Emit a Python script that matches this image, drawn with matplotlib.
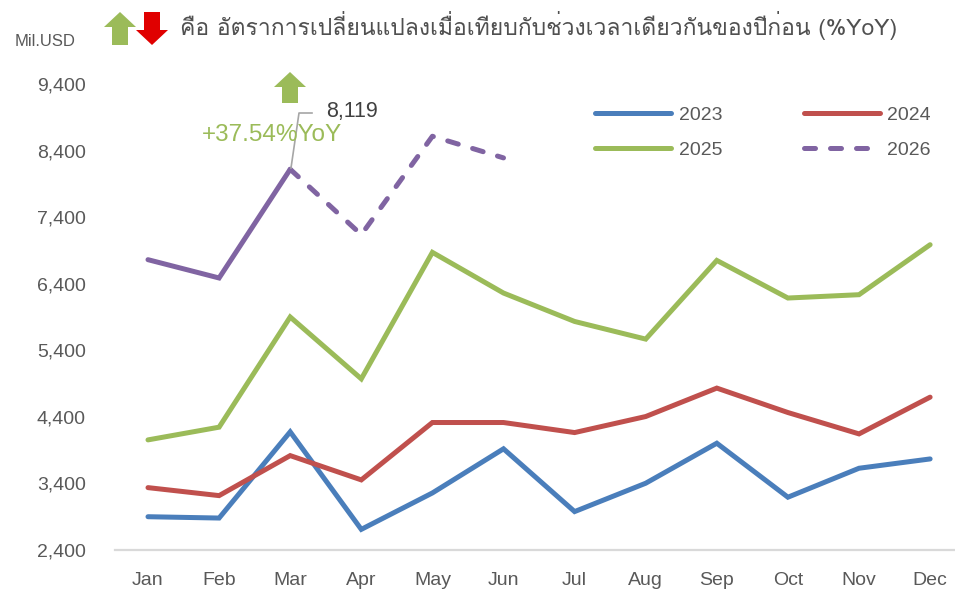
import matplotlib
matplotlib.use("Agg")
import matplotlib.pyplot as plt
from matplotlib import font_manager
from matplotlib.patches import FancyArrow
from matplotlib.lines import Line2D
from matplotlib.transforms import IdentityTransform

months = ["Jan", "Feb", "Mar", "Apr", "May", "Jun",
          "Jul", "Aug", "Sep", "Oct", "Nov", "Dec"]
y2023 = [2900, 2880, 4175, 2710, 3257, 3920, 2977, 3403, 4004, 3193, 3628, 3768]
y2024 = [3337, 3217, 3818, 3453, 4315, 4315, 4164, 4405, 4832, 4465, 4144, 4696]
y2025 = [4054, 4245, 5900, 4971, 6871, 6260, 5833, 5568, 6750, 6185, 6235, 6986]
y2026 = [6761, 6486, 8119, 7137, 8615, 8290]
yticks = [2400, 3400, 4400, 5400, 6400, 7400, 8400, 9400]

header_text = "คือ อัตราการเปลี่ยนแปลงเมื่อเทียบกับช่วงเวลาเดียวกันของปีก่อน (%YoY)"
yoy_text = "+37.54%YoY"

BLUE = "#4a7ebb"
RED = "#c0504d"
GREEN = "#9bbb59"
PURPLE = "#8064a2"
GRAY = "#595959"


def find_thai_font():
    try:
        from fontTools.ttLib import TTFont
    except ImportError:
        return None
    for f in font_manager.fontManager.ttflist:
        try:
            tt = TTFont(f.fname, fontNumber=0, lazy=True)
            if 0x0E04 in tt.getBestCmap():
                return f.name
        except Exception:
            pass
    return None


sans = ["Liberation Sans", "DejaVu Sans"]
thai = find_thai_font()
thai_family = [thai, "DejaVu Sans"] if thai else ["DejaVu Sans"]

fig = plt.figure(figsize=(9.55, 5.93), dpi=100)
W, H = 955, 593
ax = fig.add_axes([115 / W, 1 - 550 / H, (W - 115) / W, (550 - 84) / H])

x = list(range(len(months)))
lw = 3.6
style = dict(lw=lw, solid_capstyle="round", solid_joinstyle="miter", clip_on=False)
ax.plot(x, y2023, color=BLUE, **style)
ax.plot(x, y2024, color=RED, **style)
ax.plot(x, y2025, color=GREEN, **style)
ax.plot(x[:3], y2026[:3], color=PURPLE, **style)
ax.plot(x[2:6], y2026[2:6], color=PURPLE, lw=lw, dashes=(2.2, 3.0),
        dash_capstyle="round", clip_on=False)

ax.set_xlim(-0.464, 11.35)
ax.set_ylim(2400, 9400)
ax.set_xticks(x)
ax.set_xticklabels(months, family=sans, fontsize=14, color=GRAY)
ax.set_yticks(yticks)
ax.set_yticklabels([f"{v:,}" for v in yticks], family=sans, fontsize=14, color=GRAY)
ax.tick_params(axis="x", length=0, pad=16)
ax.tick_params(axis="y", length=0, pad=21)
for s in ["top", "right", "left"]:
    ax.spines[s].set_visible(False)
ax.spines["bottom"].set_color("#d9d9d9")
ax.spines["bottom"].set_linewidth(1.6)

handles = [
    Line2D([], [], color=BLUE, lw=lw, solid_capstyle="round"),
    Line2D([], [], color=GREEN, lw=lw, solid_capstyle="round"),
    Line2D([], [], color=RED, lw=lw, solid_capstyle="round"),
    Line2D([], [], color=PURPLE, lw=lw, dashes=(2.2, 3.0), dash_capstyle="round"),
]
leg = ax.legend(handles, ["2023", "2025", "2024", "2026"], ncol=2, frameon=False,
                loc="upper left", bbox_to_anchor=(595 / W, 1 - 106 / H),
                bbox_transform=fig.transFigure, borderpad=0, borderaxespad=0,
                handlelength=3.9, handletextpad=0.4, columnspacing=4.2,
                labelspacing=0.9, prop={"family": sans, "size": 14})
for t in leg.get_texts():
    t.set_color(GRAY)

ident = IdentityTransform()

# callout on March 2026
fig.add_artist(Line2D([291, 299, 312], [H - 168, H - 113, H - 113],
                      color="#a6a6a6", lw=1.2, transform=ident))
fig.text(326 / W, 1 - 112 / H, "8,119", family=sans, fontsize=15.5,
         color="#404040", va="center", ha="left")
fig.text(202 / W, 1 - 135 / H, yoy_text, family=sans,
         fontsize=17.5, color=GREEN, va="center", ha="left")

# header
fig.text(15 / W, 1 - 42 / H, "Mil.USD", family=sans, fontsize=12,
         color=GRAY, va="center", ha="left")
fig.text(180 / W, 1 - 25 / H, header_text, family=thai_family, fontsize=16.5,
         color="#505050", va="center", ha="left")


def arrow(xc, ytail, ytip, color):
    length = ytip - ytail
    fig.add_artist(FancyArrow(xc, H - ytail, 0, -length, width=16, head_width=32,
                              head_length=15, length_includes_head=True,
                              color=color, lw=0, transform=ident))


arrow(120, 45, 12, GREEN)
arrow(152, 12, 45, "#e00000")
arrow(290, 103, 72, GREEN)

fig.savefig("out.png", dpi=100)
